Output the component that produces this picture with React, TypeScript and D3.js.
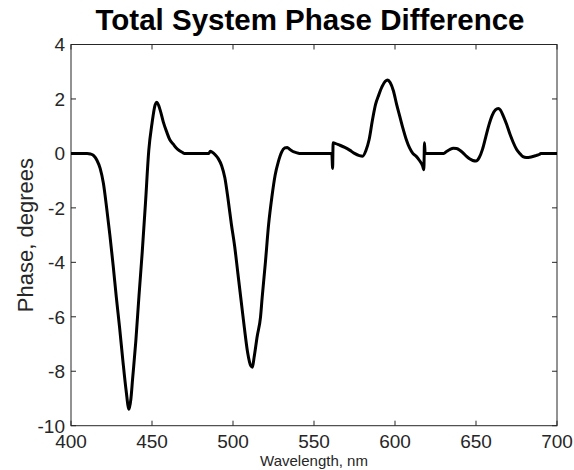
import React from "react";
import * as d3 from "d3";

const wavelengths = [
  400, 405, 410, 412, 414, 416, 418, 420, 422, 424, 426, 428, 430, 432, 434, 435.8, 437, 438, 440, 442, 444, 446, 448, 450, 452, 453, 455, 457, 459, 461, 463, 465, 467, 469, 470,
  485, 486, 487, 489, 491, 493, 495, 497, 499, 501, 503, 505, 507, 509, 511, 512, 513, 515, 517, 518, 520, 522, 524, 526, 528, 530, 532, 533.5, 535, 537, 539, 541,
  561, 561.5, 561.8, 563, 566, 569, 572, 575, 578, 580, 582, 584, 586, 588, 590, 592, 594, 595.5, 597, 599, 601, 603, 605, 607, 609, 611, 613, 615, 617, 617.8, 618.2, 618.6,
  630, 632, 634, 636, 638, 640, 642, 644, 646, 648, 650, 652, 654, 656, 658, 660, 662, 663.8, 665, 667, 669, 671, 673, 675, 677, 679, 681, 684, 687, 689, 690, 700,
];
const phase = [
  0, 0, 0, -0.02, -0.08, -0.25, -0.55, -1.1, -2.0, -3.0, -4.1, -5.3, -6.4, -7.6, -8.7, -9.4, -9.0, -8.3, -6.9, -5.2, -3.6, -1.8, 0.1, 1.1, 1.8, 1.88, 1.6, 1.15, 0.8, 0.5, 0.35, 0.2, 0.1, 0.03, 0,
  0, 0.08, 0.05, -0.05, -0.2, -0.45, -0.9, -1.7, -2.6, -3.4, -4.4, -5.4, -6.4, -7.3, -7.8, -7.85, -7.5, -6.7, -6.0, -5.3, -4.0, -2.6, -1.6, -0.8, -0.3, 0.05, 0.2, 0.22, 0.15, 0.07, 0.03, 0,
  0, -0.55, 0.39, 0.37, 0.3, 0.22, 0.12, 0.0, -0.08, -0.1, 0.1, 0.5, 1.2, 1.8, 2.15, 2.45, 2.65, 2.7, 2.6, 2.3, 1.8, 1.35, 0.9, 0.5, 0.2, 0.0, -0.1, -0.25, -0.45, -0.6, 0.39, 0.0,
  0, 0.08, 0.15, 0.19, 0.18, 0.12, 0.02, -0.1, -0.2, -0.26, -0.28, -0.15, 0.15, 0.6, 1.05, 1.4, 1.6, 1.65, 1.6, 1.35, 1.05, 0.7, 0.4, 0.15, 0.0, -0.12, -0.15, -0.13, -0.08, -0.04, 0, 0,
];
const xTicks = [400, 450, 500, 550, 600, 650, 700];
const yTicks = [-10, -8, -6, -4, -2, 0, 2, 4];
const title = "Total System Phase Difference";
const xLabel = "Wavelength, nm";
const yLabel = "Phase, degrees";

export default function App() {
  const W = 574, H = 470;
  const left = 71, right = 557, top = 44.5, bottom = 425.7;
  const x = d3.scaleLinear().domain([400, 700]).range([left, right]);
  const y = d3.scaleLinear().domain([-10, 4]).range([bottom, top]);
  const pts: [number, number][] = wavelengths.map((w, i) => [w, phase[i]]);
  const line = d3
    .line<[number, number]>()
    .x((d) => x(d[0]))
    .y((d) => y(d[1]))
    .curve(d3.curveMonotoneX);
  const axisColor = "#262626";
  const font = "'Liberation Sans', Arial, Helvetica, sans-serif";
  const tl = 5;
  return (
    <svg
      width={W}
      height={H}
      style={{ position: "absolute", left: 0, top: 0, background: "#fff" }}
      fontFamily={font}
    >
      <rect x={0} y={0} width={W} height={H} fill="#fff" />
      <text x={310} y={30} textAnchor="middle" fontSize={29.5} fontWeight="bold" fill="#000">
        {title}
      </text>
      <rect x={left} y={top} width={right - left} height={bottom - top} fill="none" stroke={axisColor} strokeWidth={1} />
      {xTicks.map((t) => (
        <g key={"x" + t}>
          <line x1={x(t)} x2={x(t)} y1={bottom} y2={bottom - tl} stroke={axisColor} />
          <line x1={x(t)} x2={x(t)} y1={top} y2={top + tl} stroke={axisColor} />
          <text x={x(t)} y={448} textAnchor="middle" fontSize={19} fill={axisColor}>
            {t}
          </text>
        </g>
      ))}
      {yTicks.map((t) => (
        <g key={"y" + t}>
          <line x1={left} x2={left + tl} y1={y(t)} y2={y(t)} stroke={axisColor} />
          <line x1={right} x2={right - tl} y1={y(t)} y2={y(t)} stroke={axisColor} />
          <text x={left - 6} y={y(t) + 6.8} textAnchor="end" fontSize={19} fill={axisColor}>
            {t}
          </text>
        </g>
      ))}
      <text x={314} y={466} textAnchor="middle" fontSize={15} fill={axisColor}>
        {xLabel}
      </text>
      <text
        transform={`translate(33, ${(top + bottom) / 2}) rotate(-90)`}
        textAnchor="middle"
        fontSize={22}
        fill={axisColor}
      >
        {yLabel}
      </text>
      <path d={line(pts) || ""} fill="none" stroke="#000" strokeWidth={3} strokeLinejoin="round" />
    </svg>
  );
}
